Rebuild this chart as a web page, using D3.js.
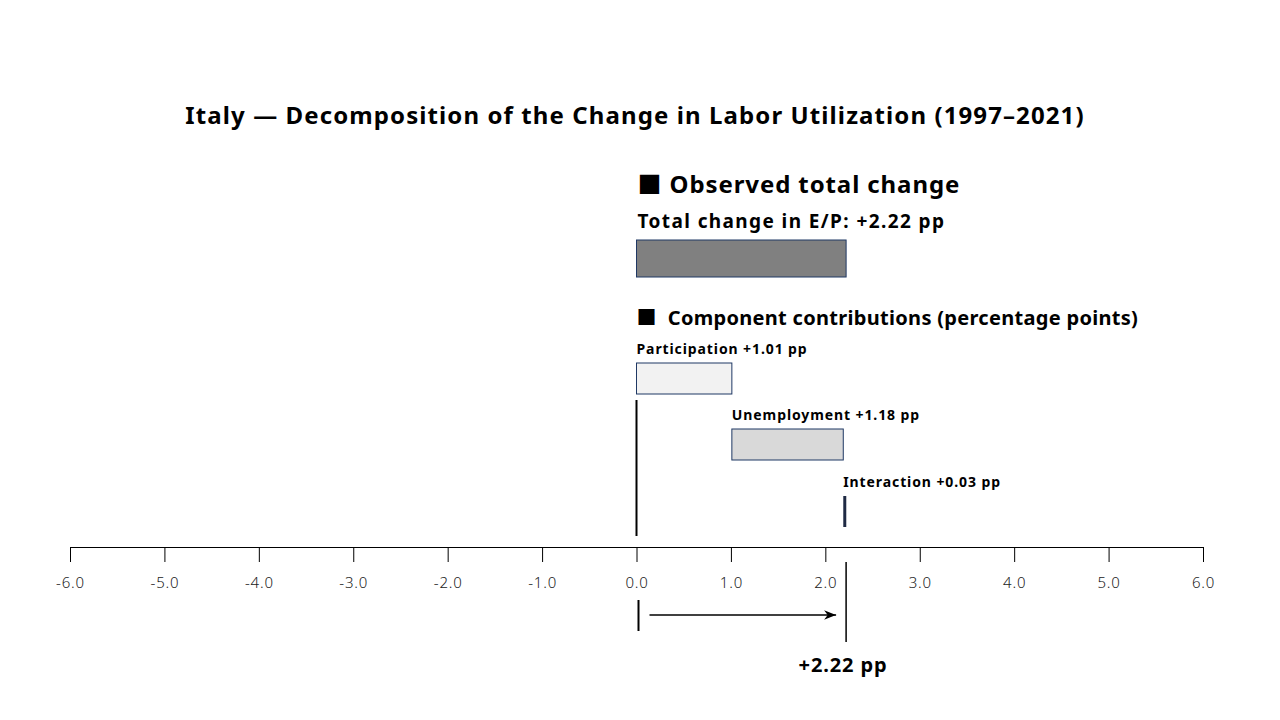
<!DOCTYPE html>
<html>
<head>
<meta charset="utf-8">
<script src="https://d3js.org/d3.v7.min.js"></script>
<style>
  body { margin: 0; background: #fff; }
  text { font-family: "Noto Sans", "Noto Sans CJK JP", sans-serif; }
</style>
</head>
<body>
<div id="chart"></div>
<script>
var w = 1280,
    h = 720;

// data
var totalChange = 2.22;
var components = ["Participation", "Unemployment", "Interaction"];
var contributions = [1.01, 1.18, 0.03];
var fills = ["#f2f2f2", "#d9d9d9", "#1f2a44"];
var tickValues = [-6, -5, -4, -3, -2, -1, 0, 1, 2, 3, 4, 5, 6];

var svg = d3.select("#chart")
    .append("svg")
    .attr("width", w)
    .attr("height", h);

var x = d3.scaleLinear().domain([-6, 6]).range([70, 1203]);
var fmt = d3.format("+.2f");

// title
svg.append("text")
    .attr("x", 635)
    .attr("y", 124)
    .attr("text-anchor", "middle")
    .style("font-size", "24px")
    .style("font-weight", "bold")
    .style("letter-spacing", "1.1px")
    .text("Italy — Decomposition of the Change in Labor Utilization (1997–2021)");

// observed total block
svg.append("text")
    .attr("x", x(0) + 1)
    .attr("y", 193)
    .style("font-size", "24px")
    .style("font-weight", "bold")
    .style("letter-spacing", "0.9px")
    .text("■ Observed total change");

svg.append("text")
    .attr("x", x(0) + 1)
    .attr("y", 228)
    .style("font-size", "19px")
    .style("font-weight", "bold")
    .style("letter-spacing", "1.4px")
    .text("Total change in E/P: " + fmt(totalChange) + " pp");

svg.append("rect")
    .attr("x", x(0))
    .attr("y", 240)
    .attr("width", x(totalChange) - x(0))
    .attr("height", 37)
    .attr("fill", "#808080")
    .attr("stroke", "#1f3864")
    .attr("stroke-width", 1);

// components block
svg.append("text")
    .attr("x", x(0))
    .attr("y", 325)
    .style("font-size", "20px")
    .style("font-weight", "bold")
    .style("letter-spacing", "0.3px")
    .attr("xml:space", "preserve")
    .text("■  Component contributions (percentage points)");

var starts = [];
var acc = 0;
contributions.forEach(function(v) { starts.push(acc); acc += v; });

var rowY = [363, 429, 496];

var g = svg.selectAll("g.comp")
    .data(components)
    .enter().append("g")
    .attr("class", "comp");

g.append("rect")
    .attr("x", function(d, i) { return x(starts[i]); })
    .attr("y", function(d, i) { return rowY[i]; })
    .attr("width", function(d, i) { return Math.max(3, x(starts[i] + contributions[i]) - x(starts[i])); })
    .attr("height", 31)
    .attr("fill", function(d, i) { return fills[i]; })
    .attr("stroke", function(d, i) { return i == 2 ? "none" : "#1f3864"; })
    .attr("stroke-width", 1);

g.append("text")
    .attr("x", function(d, i) { return x(starts[i]); })
    .attr("y", function(d, i) { return rowY[i] - 9; })
    .style("font-size", "14px")
    .style("font-weight", "bold")
    .style("letter-spacing", "0.9px")
    .text(function(d, i) { return d + " " + fmt(contributions[i]) + " pp"; });

// zero reference line
svg.append("line")
    .attr("x1", x(0)).attr("x2", x(0))
    .attr("y1", 400).attr("y2", 536)
    .attr("stroke", "#000")
    .attr("stroke-width", 2);

// axis
var axis = d3.axisBottom(x)
    .tickValues(tickValues)
    .tickFormat(function(d) { return d3.format(".1f")(d).replace("−", "-"); })
    .tickSize(15)
    .tickSizeOuter(0)
    .tickPadding(15);

var ax = svg.append("g")
    .attr("transform", "translate(0,547)")
    .call(axis);

ax.select(".domain").attr("stroke", "#000");
ax.selectAll(".tick line").attr("stroke", "#000");
ax.selectAll(".tick text")
    .style("font-size", "15px")
    .style("font-weight", "300")
    .style("letter-spacing", "0.8px")
    .attr("fill", "#222");

// bottom arrow annotation
svg.append("defs").append("marker")
    .attr("id", "arrow")
    .attr("viewBox", "0 0 10 10")
    .attr("refX", 10)
    .attr("refY", 5)
    .attr("markerWidth", 8)
    .attr("markerHeight", 8)
    .attr("orient", "auto")
    .append("path")
    .attr("d", "M0,1 L10,5 L0,9 L3,5 Z")
    .attr("fill", "#000");

svg.append("line")
    .attr("x1", x(0) + 2).attr("x2", x(0) + 2)
    .attr("y1", 600).attr("y2", 631)
    .attr("stroke", "#000")
    .attr("stroke-width", 2);

svg.append("line")
    .attr("x1", x(0) + 13).attr("x2", x(totalChange) - 10)
    .attr("y1", 615).attr("y2", 615)
    .attr("stroke", "#000")
    .attr("stroke-width", 1.5)
    .attr("marker-end", "url(#arrow)");

svg.append("line")
    .attr("x1", x(totalChange)).attr("x2", x(totalChange))
    .attr("y1", 562).attr("y2", 642)
    .attr("stroke", "#000")
    .attr("stroke-width", 1.5);

svg.append("text")
    .attr("x", x(totalChange) - 3)
    .attr("y", 672)
    .attr("text-anchor", "middle")
    .style("font-size", "20px")
    .style("font-weight", "bold")
    .style("letter-spacing", "0.9px")
    .text(fmt(totalChange) + " pp");
</script>
</body>
</html>
